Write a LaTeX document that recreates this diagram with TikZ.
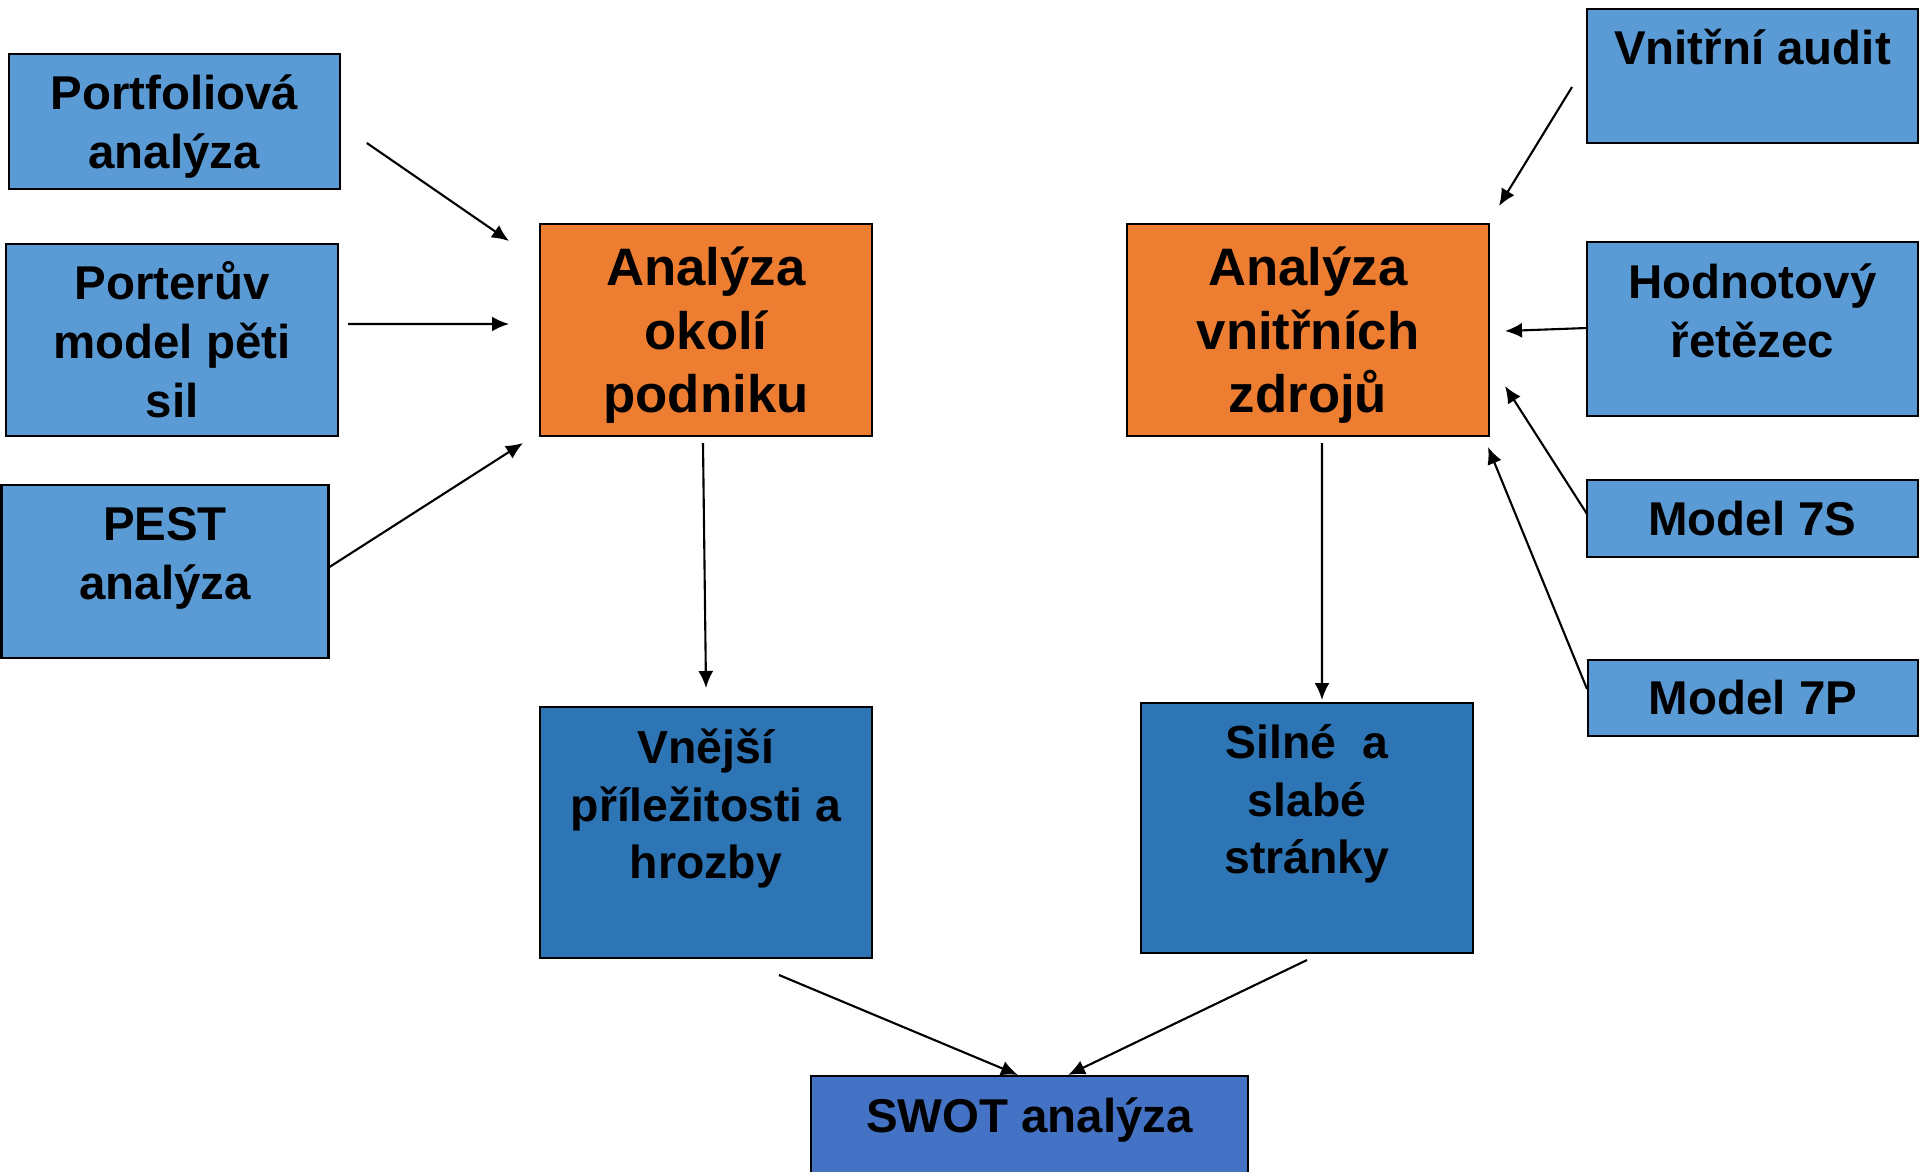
\documentclass[tikz,border=0pt]{standalone}
\usepackage{fontspec}
\setmainfont{Liberation Sans}
\usetikzlibrary{arrows.meta}
\definecolor{svmodra}{HTML}{5B9BD5}
\definecolor{oranz}{HTML}{ED7D31}
\definecolor{tmmodra}{HTML}{2E75B6}
\definecolor{swotmodra}{HTML}{4472C4}

\begin{document}
\begin{tikzpicture}[
    box/.style={draw, line width=0.7pt, align=center, inner sep=0pt, outer sep=0pt},
    vstup/.style={box, fill=svmodra, font=\fontsize{13.5}{16.8}\selectfont\bfseries},
    analyza/.style={box, fill=oranz, font=\fontsize{15}{18.1}\selectfont\bfseries},
    vystup/.style={box, fill=tmmodra, font=\fontsize{13.2}{16.4}\selectfont\bfseries},
    sipka/.style={line width=0.6pt, -{Latex[length=1.7mm, width=1.5mm]}}
  ]
  \useasboundingbox (0,0) rectangle (19.2,11.71);

  \node[vstup, minimum width=3.31cm, minimum height=1.35cm, text depth=0pt] (portf) at (1.743,10.495) {Portfoliová\\analýza};
  \node[vstup, minimum width=3.32cm, minimum height=1.92cm] (porter) at (1.72,8.31) {Porterův\\model pěti\\sil};
  \node[vstup, minimum width=3.27cm, minimum height=1.73cm, text depth=0.36cm] (pest) at (1.65,5.995) {PEST\\analýza};

  \node[analyza, minimum width=3.32cm, minimum height=2.12cm, text depth=0pt] (okoli) at (7.06,8.41) {Analýza\\okolí\\podniku};
  \node[analyza, minimum width=3.62cm, minimum height=2.12cm, text depth=0pt] (vnitr) at (13.08,8.41) {Analýza\\vnitřních\\zdrojů};

  \node[vstup, minimum width=3.31cm, minimum height=1.34cm, text depth=0.58cm] (audit) at (17.525,10.95) {Vnitřní audit};
  \node[vstup, minimum width=3.31cm, minimum height=1.74cm, text depth=0.36cm] (hodn) at (17.525,8.42) {Hodnotový\\řetězec};
  \node[vstup, minimum width=3.31cm, minimum height=0.77cm] (m7s) at (17.525,6.525) {Model 7S};
  \node[vstup, minimum width=3.30cm, minimum height=0.76cm] (m7p) at (17.53,4.73) {Model 7P};

  \node[vystup, minimum width=3.32cm, minimum height=2.51cm, text depth=0.57cm] (vnejsi) at (7.06,3.385) {Vnější\\příležitosti a\\hrozby};
  \node[vystup, minimum width=3.32cm, minimum height=2.50cm, text depth=0.58cm] (silne) at (13.07,3.43) {Silné~ a\\slabé\\stránky};
  \node[box, fill=swotmodra, minimum width=4.37cm, minimum height=1.09cm, text depth=0.30cm,
    font=\fontsize{13.5}{16.8}\selectfont\bfseries] (swot) at (10.295,0.405) {SWOT analýza};

  \draw[sipka] ([shift={(0.27,-0.215)}]portf.east) -- ([shift={(-0.31,-0.17)}]okoli.north west);
  \draw[sipka] ([shift={(0.10,0.16)}]porter.east) -- ([shift={(-0.31,0.06)}]okoli.west);
  \draw[sipka] ([shift={(0.01,0.045)}]pest.east) -- ([shift={(-0.17,-0.07)}]okoli.south west);
  \draw[sipka] ([shift={(-0.03,-0.07)}]okoli.south) -- ([shift={(0,0.19)}]vnejsi.north);

  \draw[sipka] ([shift={(0.14,-0.07)}]vnitr.south) -- ([shift={(0.15,0.03)}]silne.north);
  \draw[sipka] ([shift={(-0.15,-0.11)}]audit.west) -- ([shift={(0.10,0.18)}]vnitr.north east);
  \draw[sipka] ([shift={(0,0.01)}]hodn.west) -- ([shift={(0.16,-0.01)}]vnitr.east);
  \draw[sipka] ([shift={(0,0.045)}]m7s.west) -- ([shift={(0.16,-0.56)}]vnitr.east);
  \draw[sipka] ([shift={(-0.01,0.09)}]m7p.west) -- ([shift={(-0.01,-0.11)}]vnitr.south east);

  \draw[sipka] ([shift={(0.73,-0.17)}]vnejsi.south) -- ([shift={(-0.115,0.01)}]swot.north);
  \draw[sipka] ([shift={(0,-0.07)}]silne.south) -- ([shift={(0.385,0.01)}]swot.north);
\end{tikzpicture}
\end{document}
